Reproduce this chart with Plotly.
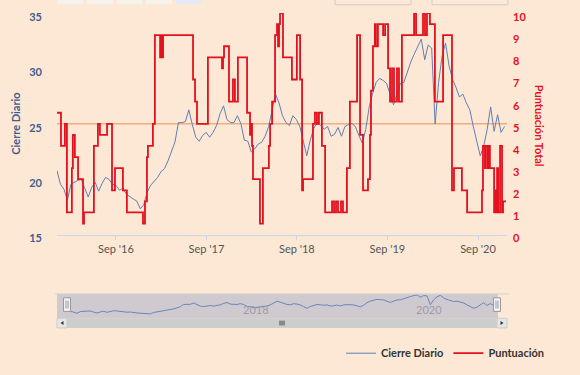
import plotly.graph_objects as go
import pandas as pd

# ---------------- data ----------------
close_start = "2016-01-07"
close_step = "14D"
close_values = [
    20.78, 19.54, 19.10, 18.12, 19.54, 19.72, 19.89, 19.98, 19.10, 18.39,
    19.27, 19.72, 18.92, 19.63, 20.16, 19.98, 19.54, 19.45, 19.01, 19.19,
    18.65, 18.39, 18.21, 18.03, 17.33, 17.68, 18.83, 19.45, 19.80, 20.16,
    20.69, 20.96, 21.66, 22.46, 23.34, 25.11, 25.11, 25.20, 26.26, 24.94,
    23.79, 23.43, 23.96, 24.23, 23.79, 24.23, 24.85, 25.91, 26.62, 25.38,
    25.11, 25.11, 25.73, 25.03, 23.52, 23.43, 22.46, 22.73, 23.17, 23.34,
    23.88, 24.76, 26.35, 27.68, 26.88, 25.73, 25.11, 24.85, 25.73, 25.38,
    24.76, 23.34, 22.11, 23.52, 24.58, 25.11, 24.85, 24.50, 24.76, 23.88,
    24.05, 24.67, 23.88, 24.76, 24.94, 25.03, 24.76, 23.96, 23.26, 24.50,
    26.53, 27.77, 28.74, 29.10, 28.92, 28.65, 27.59, 26.71, 27.68, 28.65,
    28.74, 29.72, 30.60, 31.31, 32.02, 32.64, 30.78, 32.11, 31.84, 24.98,
    28.74, 31.13, 32.28, 30.25, 29.01, 28.30, 27.42, 27.68, 26.88, 26.26,
    24.76, 23.43, 22.11, 22.99, 24.50, 26.53, 24.32, 25.82, 24.23, 24.76,
]

score_dates = [
    "2016-01-07", "2016-01-23", "2016-02-08", "2016-02-16", "2016-03-07", "2016-03-11",
    "2016-03-19", "2016-04-01", "2016-04-21", "2016-04-25", "2016-06-04", "2016-06-20",
    "2016-06-28", "2016-07-27", "2016-08-16", "2016-08-28", "2016-09-29", "2016-10-15",
    "2016-12-19", "2016-12-27", "2017-01-04", "2017-01-08", "2017-01-28", "2017-02-05",
    "2017-02-26", "2017-03-02", "2017-03-06", "2017-03-10", "2017-07-09", "2017-07-17",
    "2017-07-25", "2017-09-07", "2017-11-03", "2017-11-07", "2017-11-11", "2017-12-01",
    "2017-12-17", "2017-12-25", "2018-01-06", "2018-02-12", "2018-02-24", "2018-02-28",
    "2018-03-04", "2018-03-08", "2018-04-05", "2018-04-17", "2018-05-11", "2018-05-16",
    "2018-05-24", "2018-06-05", "2018-06-13", "2018-06-17", "2018-06-21", "2018-06-25",
    "2018-07-07", "2018-08-12", "2018-09-01", "2018-09-14", "2018-09-22", "2018-09-26",
    "2018-11-05", "2018-11-13", "2018-11-21", "2018-11-29", "2018-12-11", "2018-12-24",
    "2019-01-21", "2019-01-29", "2019-02-06", "2019-02-14", "2019-02-26", "2019-03-06",
    "2019-03-22", "2019-04-03", "2019-05-02", "2019-05-14", "2019-05-26", "2019-06-15",
    "2019-06-23", "2019-06-27", "2019-07-05", "2019-07-13", "2019-07-17", "2019-07-25",
    "2019-08-15", "2019-08-23", "2019-09-04", "2019-09-12", "2019-09-20", "2019-09-28",
    "2019-10-10", "2019-10-18", "2019-10-30", "2019-12-18", "2019-12-26", "2020-01-23",
    "2020-01-31", "2020-02-08", "2020-02-20", "2020-03-11", "2020-04-13", "2020-05-19",
    "2020-05-27", "2020-06-28", "2020-07-19", "2020-09-17", "2020-09-21", "2020-09-29",
    "2020-10-03", "2020-10-11", "2020-10-15", "2020-10-19", "2020-11-05", "2020-11-09",
    "2020-11-13", "2020-11-17", "2020-11-21", "2020-11-29", "2020-12-07", "2020-12-11",
    "2020-12-23",
]
score_values = [
    5.5, 4, 5, 1, 3, 4.5,
    3.5, 2.5, 0.5, 1, 4, 5,
    4.5, 5, 2, 3, 2, 1,
    0.5, 1.5, 3.5, 4, 5, 9,
    8, 9, 8, 9, 7, 6,
    5, 8, 7.5, 8, 8.5, 6,
    7, 6, 8, 5.5, 4.5, 5,
    4, 2.5, 0.5, 3, 4, 5,
    6, 9, 9.5, 8.5, 9.5, 10,
    8, 7, 9, 7, 2, 2.5,
    5, 5.5, 5, 5.5, 4, 1,
    1.5, 1, 1.5, 1, 1.5, 1,
    3, 6, 9, 4.5, 2, 2.5,
    4.5, 6.5, 8.5, 9.5, 8.5, 9.5,
    9, 9.5, 7.5, 6, 7.5, 6,
    7.5, 6, 9, 10, 9, 10,
    9, 10, 9.5, 6, 9, 2,
    3, 2, 1, 2, 4, 3,
    4, 3, 4, 3, 1, 2,
    1, 3, 1, 4, 1, 1.5,
    1.5,
]

x_tick_vals = ["2016-09-01", "2017-09-01", "2018-09-01", "2019-09-01", "2020-09-01"]
x_tick_text = ["Sep '16", "Sep '17", "Sep '18", "Sep '19", "Sep '20"]
left_ticks = [15, 20, 25, 30, 35]
right_ticks = [0, 1, 2, 3, 4, 5, 6, 7, 8, 9, 10]
nav_tick_vals = ["2018-01-01", "2020-01-01"]
nav_tick_text = ["2018", "2020"]
score_threshold = 5
x_range = ["2016-01-07", "2020-12-27"]

close_dates = pd.date_range(close_start, periods=len(close_values), freq=close_step)

# ---------------- styling / geometry ----------------
W, H = 580, 375
ML, MR, MT, MB = 57, 5, 13, 5
PW, PH = W - ML - MR, H - MT - MB
BG = "#fce8d5"
BLUE = "#5f7fb3"
RED = "#e3101e"
LBLUE = "#3f5e8e"
FONT = "Lato"


def px_x(x):
    return (x - ML) / PW


def px_y(y):
    return (H - MB - y) / PH


fig = go.Figure()

fig.add_trace(go.Scatter(
    x=close_dates, y=close_values, name="Cierre Diario", mode="lines",
    line=dict(color=BLUE, width=1), xaxis="x", yaxis="y",
))
fig.add_trace(go.Scatter(
    x=score_dates, y=score_values, name="Puntuación", mode="lines",
    line=dict(color=RED, width=1.8, shape="hv"), xaxis="x", yaxis="y2",
))
fig.add_trace(go.Scatter(
    x=close_dates, y=close_values, mode="lines", showlegend=False,
    line=dict(color="#6a86ba", width=1), xaxis="x2", yaxis="y3", hoverinfo="skip",
))

shapes = []
# threshold line
shapes.append(dict(type="line", xref="x domain", x0=0, x1=1, yref="y2",
                   y0=score_threshold, y1=score_threshold,
                   line=dict(color="#efad84", width=1.6), layer="below"))
# navigator mask + outline
shapes.append(dict(type="rect", xref="paper", yref="paper",
                   x0=px_x(57), x1=px_x(498), y0=px_y(327), y1=px_y(302),
                   fillcolor="rgba(102,133,194,0.3)", line=dict(width=0), layer="below"))
shapes.append(dict(type="line", xref="paper", yref="paper",
                   x0=px_x(55), x1=px_x(509), y0=px_y(302), y1=px_y(302),
                   line=dict(color="#d8d2cc", width=1)))
# scrollbar
shapes.append(dict(type="rect", xref="paper", yref="paper",
                   x0=px_x(67), x1=px_x(497), y0=px_y(337), y1=px_y(327),
                   fillcolor="#cdcdcd", line=dict(width=0)))
for a, b in [(57, 67), (497, 507)]:
    shapes.append(dict(type="rect", xref="paper", yref="paper",
                       x0=px_x(a), x1=px_x(b), y0=px_y(337), y1=px_y(327),
                       fillcolor="#e6e6e6", line=dict(color="#cccccc", width=1)))
shapes.append(dict(type="path", xref="paper", yref="paper",
                   path=f"M {px_x(63.5)} {px_y(330)} L {px_x(60.5)} {px_y(332)} L {px_x(63.5)} {px_y(334)} Z",
                   fillcolor="#333333", line=dict(width=0)))
shapes.append(dict(type="path", xref="paper", yref="paper",
                   path=f"M {px_x(500.5)} {px_y(330)} L {px_x(503.5)} {px_y(332)} L {px_x(500.5)} {px_y(334)} Z",
                   fillcolor="#333333", line=dict(width=0)))
for rx in (280, 282, 284):
    shapes.append(dict(type="line", xref="paper", yref="paper",
                       x0=px_x(rx), x1=px_x(rx), y0=px_y(329.5), y1=px_y(334.5),
                       line=dict(color="#444444", width=1)))
# navigator handles
for hx in (67, 497):
    shapes.append(dict(type="rect", xref="paper", yref="paper",
                       x0=px_x(hx - 3.5), x1=px_x(hx + 3.5), y0=px_y(320), y1=px_y(306),
                       fillcolor="#f2f2f2", line=dict(color="#999999", width=1)))
    shapes.append(dict(type="line", xref="paper", yref="paper",
                       x0=px_x(hx - 1), x1=px_x(hx - 1), y0=px_y(317), y1=px_y(309),
                       line=dict(color="#999999", width=1)))
    shapes.append(dict(type="line", xref="paper", yref="paper",
                       x0=px_x(hx + 1), x1=px_x(hx + 1), y0=px_y(317), y1=px_y(309),
                       line=dict(color="#999999", width=1)))
# range selector buttons (cut off at top)
for i, (a, b) in enumerate([(57, 83), (87, 113), (117, 142), (146, 172), (176, 202)]):
    shapes.append(dict(type="rect", xref="paper", yref="paper",
                       x0=px_x(a), x1=px_x(b), y0=px_y(4), y1=px_y(-10),
                       fillcolor="#e4e9f3" if i == 4 else "#f6f2ee", line=dict(width=0)))
for a, b in [(335, 411), (432, 508)]:
    shapes.append(dict(type="rect", xref="paper", yref="paper",
                       x0=px_x(a), x1=px_x(b), y0=px_y(4.5), y1=px_y(-10),
                       fillcolor="rgba(0,0,0,0)", line=dict(color="#d2cdc8", width=1)))

annotations = [
    dict(text="Cierre Diario", xref="paper", yref="paper", x=px_x(16), y=px_y(127),
         textangle=-90, showarrow=False, xanchor="center", yanchor="middle",
         font=dict(family=FONT, size=11, color=LBLUE, weight="bold")),
    dict(text="Puntuación Total", xref="paper", yref="paper", x=px_x(539), y=px_y(129),
         textangle=90, showarrow=False, xanchor="center", yanchor="middle",
         font=dict(family=FONT, size=11, color=RED, weight="bold")),
]
# navigator axis labels
for tv, tt in zip(nav_tick_vals, nav_tick_text):
    annotations.append(dict(text=tt, xref="x2", yref="paper", x=tv, y=px_y(318),
                            showarrow=False, xanchor="left", yanchor="middle", xshift=1,
                            font=dict(family=FONT, size=11, color="#a09aa6")))

fig.update_layout(
    width=W, height=H,
    margin=dict(l=ML, r=MR, t=MT, b=MB, pad=0),
    paper_bgcolor=BG, plot_bgcolor=BG,
    font=dict(family=FONT, size=11),
    showlegend=True,
    legend=dict(orientation="h", x=px_x(550), xanchor="right", y=px_y(363), yanchor="middle",
                font=dict(family=FONT, size=11, color="#333333", weight="bold"),
                bgcolor="rgba(0,0,0,0)", itemwidth=30, tracegroupgap=0),
    xaxis=dict(domain=[0, px_x(507)], anchor="y", range=x_range, type="date",
               tickvals=x_tick_vals, ticktext=x_tick_text,
               ticks="outside", ticklen=4, tickcolor="#ccd6eb",
               showline=True, linecolor="#ccd6eb", linewidth=1,
               showgrid=False, zeroline=False,
               tickfont=dict(family=FONT, size=11, color="#555555")),
    yaxis=dict(domain=[px_y(241), 1], anchor="x", range=[15, 35], tickvals=left_ticks,
               showgrid=False, zeroline=False, showline=False, ticks="",
               ticklabelshift=4, ticklabelstandoff=14,
               tickfont=dict(family=FONT, size=11, color=LBLUE, weight="bold")),
    yaxis2=dict(overlaying="y", side="right", anchor="x", range=[0, 10], tickvals=right_ticks,
                showgrid=False, zeroline=False, showline=False, ticks="",
                ticklabelshift=4, ticklabelstandoff=5,
                tickfont=dict(family=FONT, size=11, color=RED, weight="bold")),
    xaxis2=dict(domain=[px_x(67), px_x(497)], anchor="y3", type="date",
                range=[close_dates[0], close_dates[-1]],
                showticklabels=False, ticks="",
                showgrid=False, zeroline=False, showline=False),
    yaxis3=dict(domain=[px_y(327), px_y(302)], anchor="x2", range=[14.3, 33.4],
                visible=False),
    shapes=shapes,
    annotations=annotations,
)

fig.write_html("out.html", config={"displayModeBar": False},
               post_script="document.body.style.margin='0';")
